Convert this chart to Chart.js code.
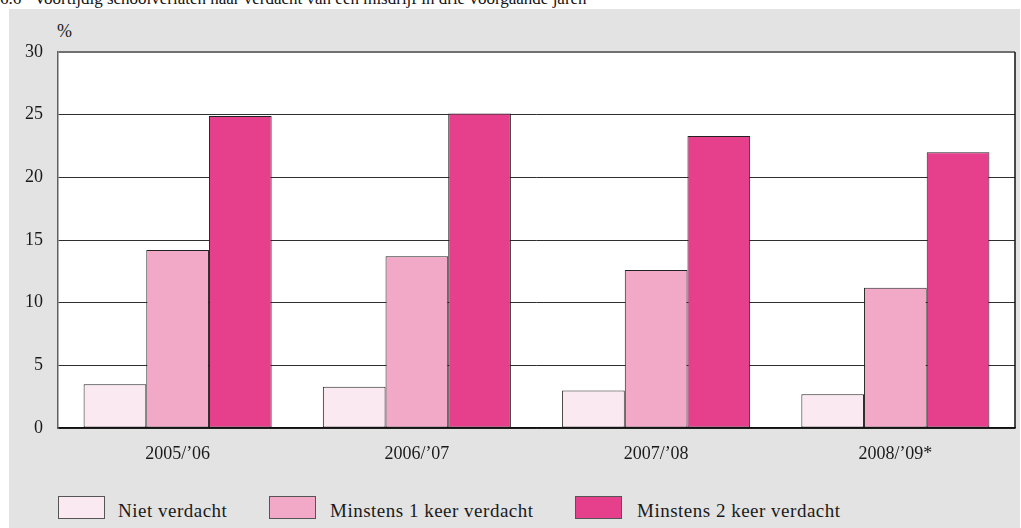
<!DOCTYPE html>
<html>
<head>
<meta charset="utf-8">
<script src="https://cdn.jsdelivr.net/npm/chart.js@4/dist/chart.umd.min.js"></script>
<style>
  html, body { margin:0; padding:0; background:#fff; width:1021px; height:528px; overflow:hidden; }
  body { position:relative; font-family:'Liberation Serif', serif; color:#1a1a1a; }
  #title { position:absolute; left:0; top:-11px; font-size:17px; white-space:nowrap; color:#111; }
  #panel { position:absolute; left:9px; top:9px; width:1011px; height:519px; background:#e2e3e2; }
  #wrap { position:absolute; left:9px; top:9px; width:1011px; height:470px; }
  #pct { position:absolute; left:57px; top:21px; font-size:18px; }
  .lg-box { position:absolute; top:496px; width:45px; height:21px; border:1px solid #555; }
  .lg-txt { position:absolute; top:501px; font-size:19px; letter-spacing:0.5px; white-space:nowrap; line-height:20px; }
</style>
</head>
<body>
<div id="title">6.6&nbsp;&nbsp;&nbsp;Voortijdig schoolverlaten naar verdacht van een misdrijf in drie voorgaande jaren</div>
<div id="panel"></div>
<div id="pct">%</div>
<div id="wrap"><canvas id="chart" width="1011" height="470"></canvas></div>
<div id="legend"></div>
<script>
// data
const years = ['2005/\u201906', '2006/\u201907', '2007/\u201908', '2008/\u201909*'];
const nietVerdacht = [3.5, 3.3, 3.0, 2.7];
const minstens1 = [14.2, 13.7, 12.6, 11.2];
const minstens2 = [24.9, 25.1, 23.3, 22.0];
const seriesNames = ['Niet verdacht', 'Minstens 1 keer verdacht', 'Minstens 2 keer verdacht'];
const seriesColors = ['#fbe9f1', '#f2a8c7', '#e6408c'];
const yTicks = [0, 5, 10, 15, 20, 25, 30];

const serif = "'Liberation Serif', serif";

// white plot background + right edge of the frame
const plotFrame = {
  id: 'plotFrame',
  beforeDraw(chart){
    const a = chart.chartArea, c = chart.ctx;
    c.save();
    c.fillStyle = '#fff';
    c.fillRect(a.left, a.top, a.right - a.left, a.bottom - a.top);
    c.restore();
  },
  afterDraw(chart){
    const a = chart.chartArea, c = chart.ctx;
    c.save();
    c.strokeStyle = '#111';
    c.lineWidth = 1.5;
    c.beginPath();
    c.moveTo(a.right, a.top);
    c.lineTo(a.right, a.bottom);
    c.stroke();
    c.restore();
  }
};

const seriesData = [nietVerdacht, minstens1, minstens2];

new Chart(document.getElementById('chart'), {
  type: 'bar',
  data: {
    labels: years,
    datasets: seriesData.map((d, i) => ({
      label: seriesNames[i],
      data: d,
      backgroundColor: seriesColors[i],
      borderColor: '#222',
      borderWidth: 1,
      borderSkipped: false,
      categoryPercentage: 0.786,
      barPercentage: 1
    }))
  },
  options: {
    responsive: false,
    animation: false,
    layout: { padding: { top: 43, right: 5, bottom: 11, left: 0 } },
    plugins: { legend: { display: false }, tooltip: { enabled: false } },
    scales: {
      x: {
        grid: { display: false },
        border: { display: true, color: '#111', width: 1.5 },
        ticks: { color: '#1a1a1a', font: { family: serif, size: 18 }, padding: 7 },
        afterFit: s => { s.height = 40; }
      },
      y: {
        min: 0, max: 30,
        afterBuildTicks: s => { s.ticks = yTicks.map(v => ({ value: v })); },
        grid: {
          drawTicks: false,
          color: c => (c.tick && c.tick.value === 30) ? '#707070' : '#2e2e2e',
          lineWidth: c => (c.tick && c.tick.value === 30) ? 2 : 1
        },
        border: { display: true, color: '#606060', width: 1.5 },
        ticks: { color: '#1a1a1a', font: { family: serif, size: 18 }, padding: 15 },
        afterFit: s => { s.width = 49; }
      }
    }
  },
  plugins: [plotFrame]
});

// legend drawn as html
const boxLeft = [58, 269, 575];
const txtLeft = [118, 330, 637];
const lg = document.getElementById('legend');
seriesNames.forEach((name, i) => {
  const b = document.createElement('div');
  b.className = 'lg-box';
  b.style.left = boxLeft[i] + 'px';
  b.style.background = seriesColors[i];
  lg.appendChild(b);
  const t = document.createElement('div');
  t.className = 'lg-txt';
  t.style.left = txtLeft[i] + 'px';
  t.textContent = name;
  lg.appendChild(t);
});
</script>
</body>
</html>
